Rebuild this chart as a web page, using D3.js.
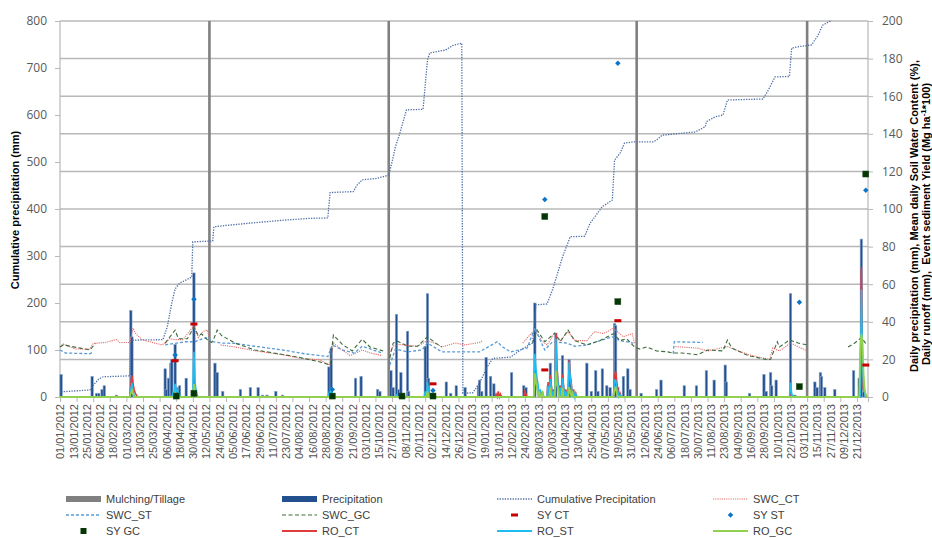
<!DOCTYPE html>
<html>
<head>
<meta charset="utf-8">
<script src="https://cdn.jsdelivr.net/npm/d3@7/dist/d3.min.js"></script>
<style>
  body { margin: 0; background: #fff; }
  svg { display: block; font-family: "Liberation Sans", Arial, sans-serif; }
</style>
</head>
<body>
<div id="chart"></div>
<script>
// day index: 0 = 01/01/2012, 730 = 31/12/2013
var startDate = new Date(2012, 0, 1);
var nDays = 730;

var tillageDays = [135, 297, 521, 675];

// daily precipitation (mm) [day, mm]
var precip = [[1,12],[29,11],[33,2],[35,2],[38,4],[40,6],[51,1],[64,46],[65,32],[95,15],[96,4],[98,10],[100,18],[101,20],[104,28],[106,5],[108,6],[114,10],[121,66],[140,18],[142,13],[147,3],[163,4],[172,5],[179,5],[183,1],[187,1],[195,3],[201,1],[243,16],[245,26],[267,10],[272,11],[287,4],[289,3],[299,14],[301,5],[304,44],[306,4],[308,13],[314,35],[315,3],[330,27],[332,55],[333,10],[349,8],[353,2],[358,6],[366,5],[378,6],[379,9],[381,3],[385,21],[389,11],[392,7],[408,13],[419,6],[421,5],[429,50],[441,6],[443,18],[448,34],[452,6],[454,22],[460,20],[461,9],[476,18],[480,3],[484,14],[486,3],[490,15],[494,6],[497,5],[501,39],[502,38],[504,5],[509,11],[513,15],[515,4],[525,2],[539,4],[543,9],[564,6],[575,6],[584,14],[591,9],[601,17],[602,8],[623,2],[636,12],[638,3],[642,13],[643,6],[647,9],[660,55],[662,1],[664,1],[682,8],[684,5],[687,13],[688,11],[691,5],[700,4],[717,14],[722,10],[724,84],[726,3]];

// cumulative precipitation (mm), left axis
var cumPrecip = [[1,11],[27,15],[30,25],[35,38],[39,43],[63,45],[64,121],[93,122],[97,150],[101,200],[104,230],[108,242],[119,255],[120,330],[138,332],[139,362],[150,365],[172,370],[201,376],[225,380],[242,381],[244,435],[265,437],[268,450],[273,462],[286,465],[297,472],[300,500],[303,532],[307,561],[313,611],[328,612],[332,717],[334,732],[348,738],[355,748],[363,753],[364,8],[373,9],[379,30],[386,64],[391,82],[407,85],[416,100],[427,115],[430,196],[440,198],[445,228],[454,298],[461,341],[474,342],[479,370],[490,405],[499,419],[501,504],[506,519],[510,540],[518,543],[536,543],[539,547],[544,557],[574,564],[583,575],[584,586],[592,596],[599,600],[603,632],[635,634],[639,649],[646,681],[659,682],[661,742],[666,745],[679,749],[685,770],[689,791],[696,800],[705,830],[730,840]];

// mean daily soil water content (%)
var swcCT = [[0,26.6],[3,28.2],[14,25.5],[27,25.5],[30,28.5],[41,29],[51,30.5],[54,29],[63,29],[66,36.7],[68,34],[74,30.5],[92,27.7],[95,28.7],[99,31],[104,30.5],[111,30.5],[121,38],[125,31.6],[129,34.8],[133,35.6],[135,31.6],[136,null],[145,27.7],[158,26.6],[176,24.6],[201,22.5],[217,20.6],[235,19.7],[244,17],[247,28.7],[255,25],[262,22],[273,25],[280,23.5],[291,22],[292,null],[298,24],[301,27],[305,28],[314,27.5],[323,27],[332,30],[341,28],[345,26.6],[357,28.7],[366,27.7],[379,29],[382,30],[383,null],[418,28.7],[429,36],[435,30],[440,27.7],[447,34],[452,30],[459,34.8],[465,30],[476,30],[483,34.8],[491,33.7],[500,36.6],[509,32],[517,33.7],[519,28.7],[520,null],[556,26.8],[576,26],[585,24.5],[603,26.8],[622,22.5],[641,20],[644,26],[650,24.5],[660,28.7],[675,24.5]];
var swcST = [[0,25],[5,23.4],[27,23],[30,24],[31,null],[95,27.7],[104,28.5],[113,29.4],[122,29.4],[129,31],[134,31.6],[137,29.5],[146,28.7],[158,28.5],[176,27],[201,25],[221,23],[242,21.5],[246,27.7],[255,25],[266,23.4],[273,27],[291,23.4],[293,null],[298,17],[303,25.5],[314,24],[327,25],[332,28.7],[345,24],[357,24],[366,24],[379,24],[395,29.4],[400,26.6],[407,24],[422,26],[429,36.7],[434,30],[438,25],[445,29.4],[458,28.7],[465,27],[476,27.7],[488,30],[499,32],[506,30],[518,28.7],[519,null],[554,23],[555,29.4],[581,29],[582,null]];
var swcGC = [[0,26.6],[3,27.7],[27,25],[32,28.5],[33,null],[95,28.7],[104,35.6],[107,31],[115,31],[121,37],[125,32.7],[128,33.5],[133,30.5],[137,29],[139,31],[142,35.6],[146,32.7],[158,28.7],[176,25],[187,24],[217,21],[235,18.6],[244,17],[247,33],[255,28],[264,24.5],[273,30.7],[280,26.6],[292,24.5],[293,null],[298,20.7],[301,28.7],[305,29.7],[314,27],[323,27],[332,32],[341,28],[345,26.6],[346,null],[427,28.7],[431,35.6],[438,29.4],[447,34],[452,29.4],[459,35.6],[465,30],[476,27.7],[488,30],[500,33.7],[506,30],[512,31],[519,26.6],[524,25.5],[530,26.6],[539,24.5],[549,24],[554,23.4],[562,23.4],[576,22.5],[585,25],[599,24.5],[603,30.3],[607,26],[622,22],[640,19.7],[642,20],[648,29.4],[650,26.6],[659,30.3],[667,28.7],[675,27.7],[676,null],[712,26.6],[718,28.7],[724,31.6],[729,27.7]];

// event sediment yield (Mg ha-1 * 100)
var syCT = [[104,19.3],[121,38.8],[337,7],[438,14.4],[504,40.6],[728,17]];
var syST = [[104,22.3],[121,52],[246,4],[337,3.5],[438,105],[504,177.5],[668,50.4],[728,110]];
var syGC = [[105,0.5],[121,2],[246,0.5],[309,0.5],[337,0.5],[438,96],[504,50.7],[668,5.5],[728,118.6]];

// daily runoff (mm), days not listed are 0
var roCT = [[64,6],[65,11.5],[66,7],[67,4],[68,2],[69,1],[104,3],[105,1],[121,5],[122,2],[332,6],[333,3],[394,1.5],[396,3],[398,1.5],[420,3],[421,1.5],[429,12],[430,8],[431,5],[432,3],[434,2],[441,8],[443,11.7],[444,6],[446,4],[448,34],[449,16],[450,8],[452,6],[454,12],[455,6],[457,4],[460,19.7],[461,12],[462,7],[464,4],[466,2],[501,12],[502,13.5],[503,8],[504,4],[506,2],[660,1],[724,69],[725,5],[726,4],[727,3],[728,1]];
var roST = [[64,4],[65,7.5],[66,3],[67,1],[102,2],[104,7],[105,3],[106,4],[107,2],[108,1],[120,3],[121,24],[122,8],[123,3],[124,1],[243,2],[245,5],[246,2],[304,1],[330,3],[332,8],[333,3],[334,1],[429,23],[430,15],[431,10],[432,6],[434,4],[436,3],[441,6],[443,9.5],[444,5],[446,3],[448,31],[449,14],[450,7],[452,5],[454,10],[455,5],[457,3],[460,18.6],[461,10],[462,6],[464,3],[466,1.5],[501,9],[502,9],[503,5],[504,3],[506,1],[660,7.5],[661,2],[724,57],[725,20],[726,4],[727,2]];
var roGC = [[64,2],[65,3.7],[66,1.5],[104,2],[121,7],[122,2],[332,3],[429,12.6],[430,8],[431,5],[433,3],[436,2],[443,5],[448,14],[449,7],[450,4],[454,5],[460,5.3],[461,3],[463,2],[501,4],[502,5],[503,2],[723,25],[724,33.5],[725,30],[726,12],[727,4],[728,1]];

var legendNames = ["Mulching/Tillage","Precipitation","Cumulative Precipitation","SWC_CT","SWC_ST","SWC_GC","SY CT","SY ST","SY GC","RO_CT","RO_ST","RO_GC"];

// ---------------------------------------------------------------
var W = 932, H = 538;
var svg = d3.select("#chart").append("svg").attr("width", W).attr("height", H);

var x = d3.scaleLinear().domain([0, nDays]).range([60, 868]);
var yL = d3.scaleLinear().domain([0, 800]).range([397, 21]);
var yR = d3.scaleLinear().domain([0, 200]).range([397, 21]);

svg.append("clipPath").attr("id", "plot")
  .append("rect").attr("x", 55).attr("y", 20).attr("width", 820).attr("height", 380);

// gridlines
svg.append("g").selectAll("line")
  .data(d3.range(20, 201, 20))
  .enter().append("line")
  .attr("x1", x(0)).attr("x2", x(nDays))
  .attr("y1", function(d) { return yR(d); })
  .attr("y2", function(d) { return yR(d); })
  .attr("stroke", "#b8b8b8").attr("stroke-width", 1.5);

// frame sides
[0, nDays].forEach(function(d) {
  svg.append("line").attr("x1", x(d)).attr("x2", x(d))
    .attr("y1", yR(200)).attr("y2", yR(0))
    .attr("stroke", "#b8b8b8").attr("stroke-width", 1.2);
});

// left axis
var gL = svg.append("g").attr("transform", "translate(" + x(0) + ",0)")
  .call(d3.axisLeft(yL).tickValues(d3.range(0, 801, 100)).tickSize(5).tickPadding(8));
// right axis
var gR = svg.append("g").attr("transform", "translate(" + x(nDays) + ",0)")
  .call(d3.axisRight(yR).tickValues(d3.range(0, 201, 20)).tickSize(5).tickPadding(9));
[gL, gR].forEach(function(g) {
  g.select(".domain").remove();
  g.selectAll(".tick line").attr("stroke", "#b8b8b8");
  g.selectAll(".tick text").attr("fill", "#595959")
    .style("font-family", "'Open Sans', sans-serif").style("font-size", "12px");
});

// x axis: tick marks every 15 days, labels every 12 days
var fmt = d3.timeFormat("%d/%m/%Y");
var gX = svg.append("g").attr("transform", "translate(0," + yR(0) + ")")
  .call(d3.axisBottom(x).tickValues(d3.range(0, nDays + 1, 15)).tickSize(5).tickFormat(""));
gX.select(".domain").attr("stroke", "#b8b8b8");
gX.selectAll(".tick line").attr("stroke", "#b8b8b8");
var gX2 = svg.append("g").attr("transform", "translate(0," + yR(0) + ")")
  .call(d3.axisBottom(x).tickValues(d3.range(0, 721, 12)).tickSize(0)
    .tickFormat(function(d) { return fmt(d3.timeDay.offset(startDate, d)); }));
gX2.select(".domain").remove();
gX2.selectAll(".tick text")
  .attr("transform", "rotate(-90)")
  .attr("x", -7).attr("y", 0).attr("dy", "0.35em")
  .style("text-anchor", "end")
  .style("font-size", "11px")
  .attr("fill", "#505050");

var plot = svg.append("g").attr("clip-path", "url(#plot)");

// mulching / tillage
plot.selectAll(".till").data(tillageDays).enter().append("rect")
  .attr("x", function(d) { return x(d) - 1.3; }).attr("width", 2.6)
  .attr("y", yR(200)).attr("height", yR(0) - yR(200))
  .attr("fill", "#808080");

// precipitation bars
plot.selectAll(".pbar").data(precip).enter().append("rect")
  .attr("x", function(d) { return x(d[0]) - 1.2; }).attr("width", 2.4)
  .attr("y", function(d) { return yR(d[1]); })
  .attr("height", function(d) { return yR(0) - yR(d[1]); })
  .attr("fill", "#23508e").attr("stroke", "#8aa6cc").attr("stroke-width", 0.6);

function lineOn(scale) {
  return d3.line().defined(function(d) { return d[1] != null; })
    .x(function(d) { return x(d[0]); }).y(function(d) { return scale(d[1]); });
}

function daily(events) {
  var m = new Map(events);
  return d3.range(0, nDays + 1).map(function(d) { return [d, m.has(d) ? m.get(d) : 0]; });
}

// cumulative precipitation
plot.append("path").datum(cumPrecip).attr("d", lineOn(yL))
  .attr("fill", "none").attr("stroke", "#4d6ea6").attr("stroke-width", 1.3)
  .attr("stroke-dasharray", "1.3,1.3");

// soil water content
plot.append("path").datum(swcCT).attr("d", lineOn(yR))
  .attr("fill", "none").attr("stroke", "#e6706f").attr("stroke-width", 1.1)
  .attr("stroke-dasharray", "1.2,1");
plot.append("path").datum(swcST).attr("d", lineOn(yR))
  .attr("fill", "none").attr("stroke", "#5b9bd5").attr("stroke-width", 1.3)
  .attr("stroke-dasharray", "3,2");
plot.append("path").datum(swcGC).attr("d", lineOn(yR))
  .attr("fill", "none").attr("stroke", "#3d6b3d").attr("stroke-width", 1.1)
  .attr("stroke-dasharray", "4,2.5");

// runoff
plot.append("path").datum(daily(roCT)).attr("d", lineOn(yR))
  .attr("fill", "none").attr("stroke", "#e03c3c").attr("stroke-width", 1.6);
plot.append("path").datum(daily(roST)).attr("d", lineOn(yR))
  .attr("fill", "none").attr("stroke", "#1ebcf0").attr("stroke-width", 1.6);
plot.append("path").datum(daily(roGC)).attr("d", lineOn(yR))
  .attr("fill", "none").attr("stroke", "#92d050").attr("stroke-width", 1.8);

// sediment yield markers
var diamond = d3.symbol().type(d3.symbolSquare).size(15);
plot.selectAll(".syct").data(syCT).enter().append("rect")
  .attr("x", function(d) { return x(d[0]) - 3.5; }).attr("y", function(d) { return yR(d[1]) - 1.5; })
  .attr("width", 7).attr("height", 3).attr("fill", "#c80000");
plot.selectAll(".syst").data(syST).enter().append("path")
  .attr("transform", function(d) { return "translate(" + x(d[0]) + "," + yR(d[1]) + ") rotate(45)"; })
  .attr("d", diamond).attr("fill", "#0a74c8");
plot.selectAll(".sygc").data(syGC).enter().append("rect")
  .attr("x", function(d) { return x(d[0]) - 3; }).attr("y", function(d) { return yR(d[1]) - 3; })
  .attr("width", 6).attr("height", 6).attr("fill", "#033603").attr("stroke", "#1d4d1d").attr("stroke-width", 0.5);

// axis titles
svg.append("text")
  .attr("transform", "translate(19,210) rotate(-90)")
  .attr("text-anchor", "middle").style("font-size", "11px").style("font-weight", "bold")
  .attr("fill", "#000").text("Cumulative precipitation (mm)");
svg.append("text")
  .attr("transform", "translate(918,216) rotate(-90)")
  .attr("text-anchor", "middle").style("font-size", "11px").style("font-weight", "bold")
  .text("Daily precipitation (mm), Mean daily Soil Water Content (%),");
var t2 = svg.append("text")
  .attr("transform", "translate(929.5,224) rotate(-90)")
  .attr("text-anchor", "middle").style("font-size", "11px").style("font-weight", "bold")
  .attr("xml:space", "preserve");
t2.append("tspan").text("Daily runoff (mm),  Event sediment Yield (Mg ha");
t2.append("tspan").attr("dy", -4).style("font-size", "8px").text("-1");
t2.append("tspan").attr("dy", 4).text("*100)");

// legend
var colX = [66, 282, 497, 713];
var rowY = [499, 515, 531];
var leg = svg.append("g");
legendNames.forEach(function(name, i) {
  var cx = colX[i % 4], cy = rowY[Math.floor(i / 4)];
  var g = leg.append("g").attr("transform", "translate(" + cx + "," + cy + ")");
  if (name === "Mulching/Tillage" || name === "Precipitation") {
    g.append("rect").attr("x", 0).attr("y", -3).attr("width", 35).attr("height", 6)
      .attr("fill", name === "Precipitation" ? "#23508e" : "#808080");
  } else if (name === "SY CT") {
    g.append("rect").attr("x", 14).attr("y", -1.5).attr("width", 7).attr("height", 3).attr("fill", "#c80000");
  } else if (name === "SY ST") {
    g.append("path").attr("transform", "translate(17.5,0) rotate(45)")
      .attr("d", diamond).attr("fill", "#0a74c8");
  } else if (name === "SY GC") {
    g.append("rect").attr("x", 14.5).attr("y", -3).attr("width", 6).attr("height", 6).attr("fill", "#033603");
  } else {
    var st = {
      "Cumulative Precipitation": ["#4d6ea6", 1.3, "1.3,1.3"],
      "SWC_CT": ["#e6706f", 1.1, "1.2,1"],
      "SWC_ST": ["#5b9bd5", 1.3, "3,2"],
      "SWC_GC": ["#3d6b3d", 1.1, "4,2.5"],
      "RO_CT": ["#e03c3c", 2, null],
      "RO_ST": ["#1ebcf0", 2, null],
      "RO_GC": ["#92d050", 2, null]
    }[name];
    g.append("line").attr("x1", 0).attr("x2", 35).attr("y1", 0).attr("y2", 0)
      .attr("stroke", st[0]).attr("stroke-width", st[1]).attr("stroke-dasharray", st[2]);
  }
  g.append("text").attr("x", 40).attr("y", 4).style("font-size", "11px")
    .attr("fill", "#404040").text(name);
});
</script>
</body>
</html>
